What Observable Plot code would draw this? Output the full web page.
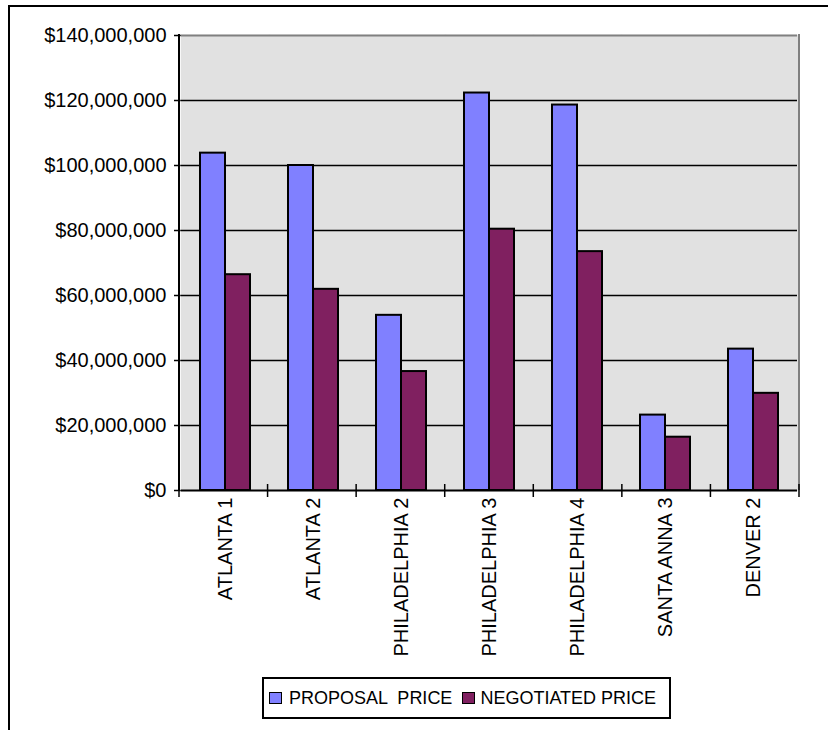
<!DOCTYPE html>
<html>
<head>
<meta charset="utf-8">
<script src="https://cdn.jsdelivr.net/npm/d3@7"></script>
<script src="https://cdn.jsdelivr.net/npm/@observablehq/plot@0.6"></script>
<style>
  html, body { margin: 0; padding: 0; background: #fff; width: 828px; height: 730px; overflow: hidden; }
  body { font-family: "Liberation Sans", Arial, sans-serif; }
  #wrap { position: relative; width: 828px; height: 730px; overflow: hidden; }
  #border { position: absolute; left: 8px; top: 5px; width: 900px; height: 900px;
            border-top: 2px solid #000; border-left: 2px solid #000; }
  #chart { position: absolute; left: 0; top: 0; }
  #legend { position: absolute; left: 262px; top: 677px; width: 405px; height: 38px;
            border: 2px solid #000; background: #fff; display: flex; align-items: center;
            font-size: 18px; color: #000; }
  #legend .sw { width: 11px; height: 10px; border: 1.5px solid #000; flex: none; }
  #legend .lab { white-space: pre; }
  svg g[aria-label="y-axis tick"] path { stroke-width: 1.5; }
</style>
</head>
<body>
<div id="wrap">
  <div id="border"></div>
  <div id="chart"></div>
  <div id="legend"></div>
</div>
<script>
// ---- data ----
const categories = ["ATLANTA 1", "ATLANTA 2", "PHILADELPHIA 2", "PHILADELPHIA 3", "PHILADELPHIA 4", "SANTA ANNA 3", "DENVER 2"];
const series = ["PROPOSAL  PRICE", "NEGOTIATED PRICE"];
const proposalPrice = [103800000, 100000000, 53900000, 122300000, 118600000, 23200000, 43500000];
const negotiatedPrice = [66400000, 61900000, 36600000, 80400000, 73500000, 16400000, 29900000];
const yTicks = [0, 20000000, 40000000, 60000000, 80000000, 100000000, 120000000, 140000000];
const colors = ["#8080ff", "#802060"];

// ---- table ----
const rows = [];
categories.forEach((c, i) => {
  rows.push({category: c, series: series[0], value: proposalPrice[i]});
  rows.push({category: c, series: series[1], value: negotiatedPrice[i]});
});

const W = 828, H = 670;
const mTop = 35, mBottom = 180, mLeft = 179, mRight = 29;
const fmt = d3.format(",");

const chart = Plot.plot({
  width: W,
  height: H,
  marginTop: mTop,
  marginBottom: mBottom,
  marginLeft: mLeft,
  marginRight: mRight,
  style: {fontFamily: '"Liberation Sans", Arial, sans-serif', fontSize: "20px", color: "#000", background: "transparent"},
  fx: {domain: categories, padding: 0, axis: "bottom", label: null, tickRotate: -90, tickSize: 0, tickPadding: 7},
  x: {domain: series, paddingInner: 0, paddingOuter: 0.71, axis: null},
  y: {domain: [0, 140000000], ticks: yTicks, tickFormat: d => "$" + fmt(d), tickSize: 7, tickPadding: 8, label: null, grid: false},
  color: {domain: series, range: colors},
  marks: [
    Plot.frame({fill: "#e1e1e1", stroke: "#e1e1e1", strokeWidth: 1.5}),
    Plot.ruleY(yTicks.filter(d => d > 0 && d < 140000000), {stroke: "#000", strokeWidth: 1.3}),
    Plot.ruleY([140000000], {stroke: "#808080", strokeWidth: 2}),
    Plot.barY(rows, {fx: "category", x: "series", y: "value", fill: "series", stroke: "#000", strokeWidth: 2}),
    Plot.ruleY([0], {stroke: "#000", strokeWidth: 2})
  ]
});
document.getElementById("chart").append(chart);

// axis lines & category-boundary tick marks, positioned through the plot's own scales
const fxS = chart.scale("fx"), yS = chart.scale("y");
const fxScale = d3.scaleBand(fxS.domain, fxS.range).padding(0);
const yScale = d3.scaleLinear(yS.domain, yS.range);
const svg = d3.select(chart);
const g = svg.append("g");
const y0 = yScale(0), yTop = yScale(140000000);
const xLeft = fxScale(categories[0]);
const xRight = fxScale(categories[categories.length - 1]) + fxScale.bandwidth();
g.append("line").attr("x1", xRight).attr("x2", xRight).attr("y1", yTop - 1).attr("y2", y0)
  .attr("stroke", "#808080").attr("stroke-width", 2);
g.append("line").attr("x1", xLeft).attr("x2", xLeft).attr("y1", yTop - 1).attr("y2", y0 + 1)
  .attr("stroke", "#000").attr("stroke-width", 2);
const bounds = categories.map(c => fxScale(c)).concat([xRight]);
bounds.forEach(x => {
  g.append("line").attr("x1", x).attr("x2", x).attr("y1", y0 - 6).attr("y2", y0 + 7)
    .attr("stroke", "#000").attr("stroke-width", 1.5);
});

// legend
const legend = document.getElementById("legend");
series.forEach((s, i) => {
  const sw = document.createElement("div");
  sw.className = "sw";
  sw.style.background = colors[i];
  sw.style.marginLeft = i === 0 ? "5px" : "10px";
  const lab = document.createElement("span");
  lab.className = "lab";
  lab.textContent = s;
  lab.style.marginLeft = i === 0 ? "7px" : "5px";
  legend.append(sw, lab);
});
</script>
</body>
</html>
